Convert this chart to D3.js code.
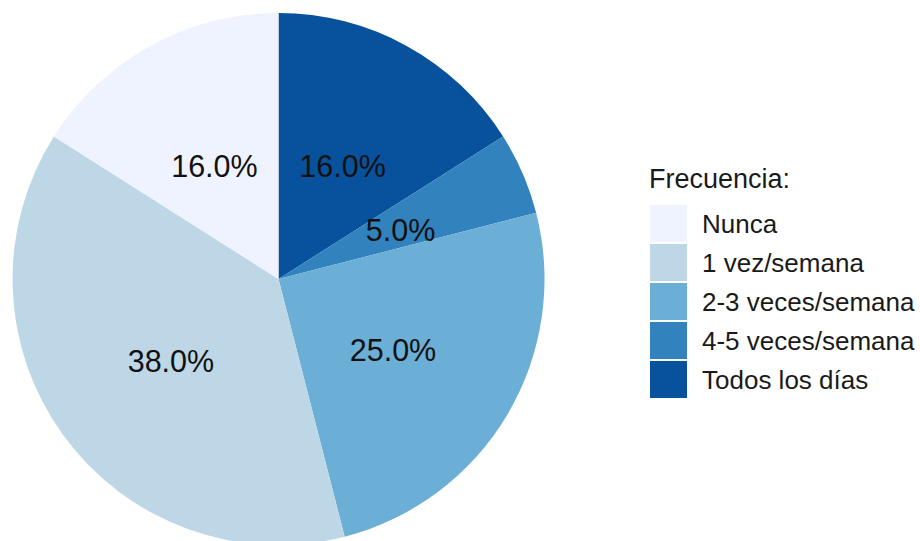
<!DOCTYPE html>
<html>
<head>
<meta charset="utf-8">
<script src="https://cdn.jsdelivr.net/npm/d3@7"></script>
<style>
  html, body { margin: 0; padding: 0; background: #ffffff; }
  svg { display: block; font-family: "Liberation Sans", Arial, sans-serif; }
</style>
</head>
<body>
<svg id="chart" width="920" height="541"></svg>
<script>
// Frecuencia de respuesta (porcentaje)
const categories = ["Nunca", "1 vez/semana", "2-3 veces/semana", "4-5 veces/semana", "Todos los días"];
const values = [16, 38, 25, 5, 16];
const colors = ["#eff3ff", "#bdd7e7", "#6baed6", "#3182bd", "#08519c"];
const legendTitle = "Frecuencia:";

const svg = d3.select("#chart");
const cx = 278.5, cy = 279, radius = 266;

const color = d3.scaleOrdinal().domain(categories).range(colors);

// slices run clockwise from 12 o'clock, last category first
const records = categories.map((c, i) => ({ cat: c, value: values[i] })).reverse();

const pie = d3.pie().sort(null).value(d => d.value);
const arcs = pie(records);

const arc = d3.arc().innerRadius(0).outerRadius(radius);
const labelArc = d3.arc().innerRadius(radius * 0.5).outerRadius(radius * 0.5);

const g = svg.append("g").attr("transform", `translate(${cx},${cy})`);

g.selectAll("path.slice")
  .data(arcs)
  .join("path")
  .attr("class", "slice")
  .attr("d", arc)
  .attr("fill", d => color(d.data.cat));

g.selectAll("text.pct")
  .data(arcs)
  .join("text")
  .attr("class", "pct")
  .attr("transform", d => `translate(${labelArc.centroid(d)})`)
  .attr("text-anchor", "middle")
  .attr("dy", "0.48em")
  .attr("font-size", 30.5)
  .attr("fill", "#111")
  .text(d => d3.format(".1f")(d.data.value) + "%");

// legend
const lg = svg.append("g").attr("transform", "translate(650,0)");
lg.append("text")
  .attr("x", -1)
  .attr("y", 188)
  .attr("font-size", 27)
  .attr("fill", "#1a1a1a")
  .text(legendTitle);

const keyY = d3.scaleBand().domain(categories).range([205, 398]).paddingInner(0.05);

const items = lg.selectAll("g.item")
  .data(categories)
  .join("g")
  .attr("class", "item")
  .attr("transform", d => `translate(0,${keyY(d)})`);

items.append("rect")
  .attr("width", 37)
  .attr("height", keyY.bandwidth())
  .attr("fill", d => color(d));

items.append("text")
  .attr("x", 52)
  .attr("y", keyY.bandwidth() / 2)
  .attr("dy", "0.36em")
  .attr("font-size", 26)
  .attr("fill", "#1a1a1a")
  .text(d => d);
</script>
</body>
</html>
